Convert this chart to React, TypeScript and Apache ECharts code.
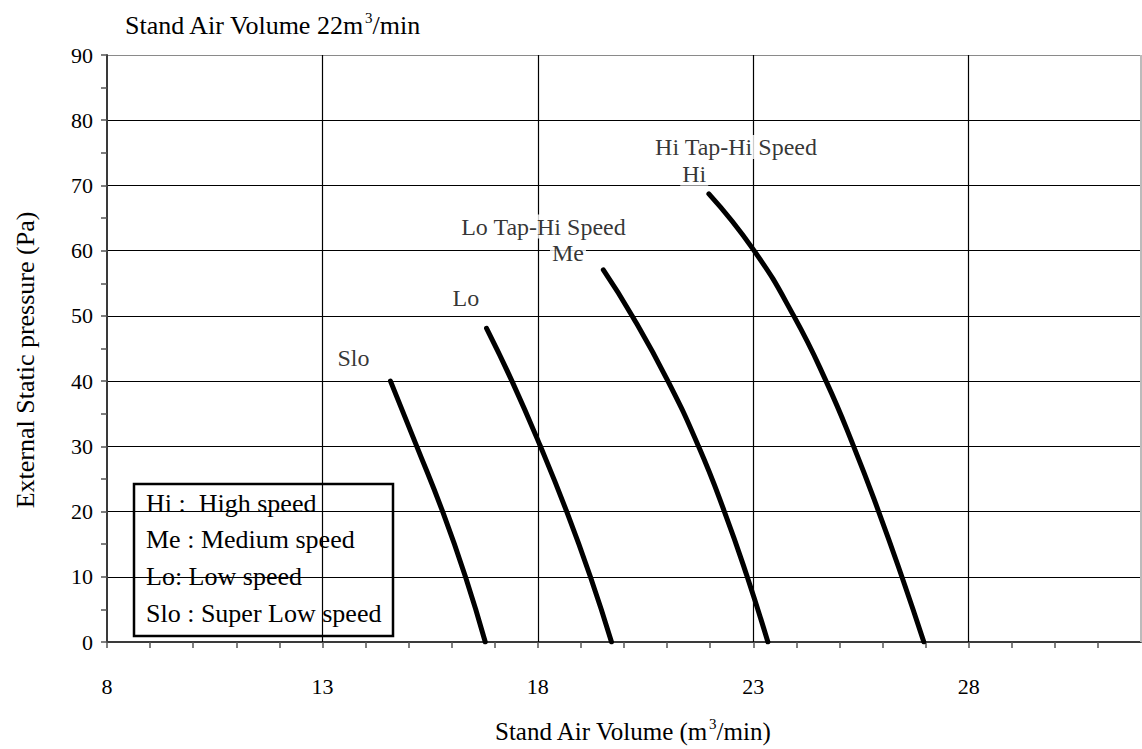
import React, { useEffect, useRef } from "react";
import * as echarts from "echarts";

// ---- data ----
const sloFlow = [14.58, 15.19, 15.79, 16.32, 16.78];
const sloPressure = [40, 30, 20, 10, 0];

const loFlow = [16.81, 17.4, 18.06, 18.67, 19.22, 19.71];
const loPressure = [48.1, 40, 30, 20, 10, 0];

const meFlow = [19.52, 20.19, 21.02, 21.73, 22.33, 22.86, 23.34];
const mePressure = [57.05, 50, 40, 30, 20, 10, 0];

const hiFlow = [21.97, 23.02, 23.94, 24.69, 25.33, 25.91, 26.45, 26.96];
const hiPressure = [68.7, 60, 50, 40, 30, 20, 10, 0];

const curveNames = ["Slo", "Lo", "Me", "Hi"];

// annotation labels: [flow, pressure, text]
const annotations: [number, number, string][] = [
  [13.72, 43.6, "Slo"],
  [16.33, 52.8, "Lo"],
  [18.13, 63.7, "Lo Tap-Hi Speed"],
  [18.7, 59.7, "Me"],
  [22.6, 75.9, "Hi Tap-Hi Speed"],
  [21.63, 71.8, "Hi"],
];

const xMin = 8;
const xMax = 32;
const xLabelStep = 5;
const xGridValues = [13, 18, 23, 28];
const yMin = 0;
const yMax = 90;
const yInterval = 10;

const legendLines = [
  "Hi :\u00a0 High speed",
  "Me : Medium speed",
  "Lo: Low speed",
  "Slo : Super Low speed",
];

const titleText = "Stand Air Volume 22m{sup|3}/min";
const xName = "Stand Air Volume (m{sup|3}/min)";
const yName = "External Static pressure (Pa)";

const FONT = "'Liberation Serif', 'Times New Roman', serif";

function pairs(xs: number[], ys: number[]) {
  return xs.map((x, i) => [x, ys[i]]);
}

export default function App() {
  const ref = useRef<HTMLDivElement>(null);

  useEffect(() => {
    const chart = echarts.init(ref.current!, null, { renderer: "svg" });

    const curves = [
      pairs(sloFlow, sloPressure),
      pairs(loFlow, loPressure),
      pairs(meFlow, mePressure),
      pairs(hiFlow, hiPressure),
    ];

    const splitColors = [];
    for (let v = yMin; v <= yMax; v += yInterval) {
      splitColors.push(v === yMax ? "#8a8a8a" : "#000");
    }

    const option: any = {
      animation: false,
      backgroundColor: "#fff",
      textStyle: { fontFamily: FONT },
      grid: { left: 107, right: 1, top: 55, bottom: 107, containLabel: false },
      xAxis: {
        type: "value",
        min: xMin,
        max: xMax,
        interval: 1,
        axisLine: { show: true, lineStyle: { color: "#3a3a3a", width: 2 } },
        axisTick: { show: true, length: 6, lineStyle: { color: "#555", width: 1.5 } },
        splitLine: { show: false },
        axisLabel: {
          color: "#000",
          fontFamily: FONT,
          fontSize: 22,
          margin: 33,
          showMaxLabel: false,
          formatter: (v: number) =>
            (v - xMin) % xLabelStep === 0 && v < xMax ? String(v) : "",
        },
      },
      yAxis: {
        type: "value",
        min: yMin,
        max: yMax,
        interval: yInterval,
        axisLine: { show: true, lineStyle: { color: "#3a3a3a", width: 2 } },
        axisTick: { show: true, length: 6, lineStyle: { color: "#555", width: 1.5 } },
        minorTick: { show: true, splitNumber: 2, length: 6, lineStyle: { color: "#555", width: 1.5 } },
        splitLine: { show: true, lineStyle: { color: splitColors, width: 1.2 } },
        axisLabel: { color: "#000", fontFamily: FONT, fontSize: 22, margin: 14 },
      },
      series: [
        {
          type: "line",
          name: "grid",
          data: [],
          z: 1,
          silent: true,
          markLine: {
            silent: true,
            symbol: "none",
            label: { show: false },
            lineStyle: { color: "#000", width: 1.2, type: "solid" },
            data: [
              ...xGridValues.map((v) => ({ xAxis: v })),
              { xAxis: xMax, lineStyle: { color: "#bbb", width: 2, type: "solid" } },
            ],
          },
        },
        ...curves.map((d, i) => ({
          type: "line",
          name: curveNames[i],
          data: d,
          smooth: 0.5,
          symbol: "none",
          z: 3,
          lineStyle: { color: "#000", width: 5, cap: "round" },
        })),
        {
          type: "scatter",
          name: "labels",
          data: annotations,
          symbolSize: 0,
          z: 5,
          label: {
            show: true,
            position: "inside",
            formatter: (p: any) => p.data[2],
            color: "#000",
            fontFamily: FONT,
            fontSize: 24,
            backgroundColor: "#fff",
            padding: [0, 2],
          },
        },
      ],
      graphic: [
        {
          type: "text",
          x: 125,
          y: 25,
          style: {
            text: titleText,
            fontFamily: FONT,
            fontSize: 26,
            fill: "#000",
            align: "left",
            verticalAlign: "middle",
            rich: { sup: { fontSize: 15, verticalAlign: "top", fontFamily: FONT, lineHeight: 30 } },
            lineHeight: 30,
          },
        },
        {
          type: "text",
          x: 495,
          y: 731,
          style: {
            text: xName,
            fontFamily: FONT,
            fontSize: 25,
            fill: "#000",
            align: "left",
            verticalAlign: "middle",
            rich: { sup: { fontSize: 15, verticalAlign: "top", fontFamily: FONT, lineHeight: 29 } },
            lineHeight: 29,
          },
        },
        {
          type: "text",
          x: 25,
          y: 360,
          rotation: Math.PI / 2,
          style: {
            text: yName,
            fontFamily: FONT,
            fontSize: 26,
            fill: "#000",
            align: "center",
            verticalAlign: "middle",
          },
        },
        {
          type: "group",
          x: 134,
          y: 484,
          z: 100,
          children: [
            {
              type: "rect",
              shape: { x: 0, y: 0, width: 259, height: 152 },
              style: { fill: "#fff", stroke: "#000", lineWidth: 2.5 },
            },
            ...legendLines.map((t, i) => ({
              type: "text",
              x: 12,
              y: 19 + i * 36.7,
              style: {
                text: t,
                fontFamily: FONT,
                fontSize: 26,
                fill: "#000",
                align: "left",
                verticalAlign: "middle",
              },
            })),
          ],
        },
      ],
    };

    chart.setOption(option);
    return () => chart.dispose();
  }, []);

  return (
    <div
      ref={ref}
      style={{ position: "fixed", left: 0, top: 0, width: 1142, height: 749, background: "#fff" }}
    />
  );
}
